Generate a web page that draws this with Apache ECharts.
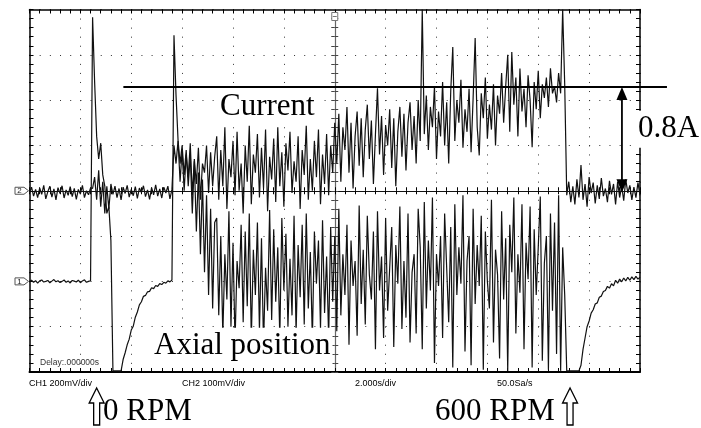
<!DOCTYPE html>
<html><head><meta charset="utf-8">
<script src="https://cdn.jsdelivr.net/npm/echarts@6/dist/echarts.min.js"></script>
<style>html,body{margin:0;padding:0;background:#fff}#c{width:701px;height:428px}</style>
</head><body><div id="c"></div>
<script>
// Sample times (s): first sample and step
const T0 = -12, DT = 0.08;
// CH2: motor current, mV (100 mV/div)
const ch2Idle = [-5,8,-12,3,-15,6,-8,12,-18,-2,10,-14,4,-20,7,-6,11,-16,2,-10,9,-13,5,-19,3,-7,12,-15,0,-9,6];
const ch2Start = [5,30,-20,45,-35,20,-50,10,-40,15];
const ch2Wait = [-8,10,-15,5,-20,8,-6,12,-14,3,-11,9,-17,6,-4,11,-13,2,-19,7,-9,13,-12,4,-16,8,-5,10,-18,3];
const ch2RunA = [100,60,110,20,90,0,80,30,105,-10,70,15,95,-20,60,40,100,-5,85,10,75];
const ch2RunB = [120,-20,90,10,140,-40,70,30,110,-10,130,0,60,-50,100,20,145,-30,80,40,125,-15,95,5,135,-45,75,25,115,-25,140,10,85,-35,105,45,130,-5,65,20,120,-40,90,35,145,-20,70,0,110,30,135,-30,80,15,125,-10,100,40,150];
const ch2RunC = [60,170,20,140,90,185,40,150,5,120,175,55,160,30,135,190,70,155,15,125,226,80,165,35,145,100,180,50,160,10,130,185,75,170,45,150,195,90,165,60,200,110];
const ch2RunD = [400,125,210,90,185,140,230,70,175,120,240,100,195,60,220,317,110,200,150,245,95,180,130,225,85,205,337,140,78,215,160,250,115,190,135,235,100,210,170];
const ch2RunE = [260,150,230,300,130,306,190,250,120,270,175,225,140,255,200,96,240,180,265,160,235,205,250,185,270,215,230,195,260,215,400,235];
const ch2Stop = [-10,20,-25,10,-30,25,-15,57,-20,15,-35,30,-5,18,-28,12,-18,28,-12,5,-25,22,-8,15,-30,20,-15,10,-22,25,-5,12,-20,8,-15,18,-10];
// CH1: axial position, mV (200 mV/div)
const ch1Idle = [0,5,-4,3,-8,2,6,-3,0,4,-6,1,8,-2,3,-5,0,6,-4,2,-7,4,1,-3,5,-6,2,7,-4,0,3];
const ch1Kick = [1166,880,640,540,610,470,420,300,330,180];
const ch1Floor = [-395,-395,-395,-395,-395];
const ch1Recover = [-345,-315,-280,-255,-215,-198,-158,-135,-104,-90,-66,-62,-46,-44,-28,-32,-18,-22,-10,-14,-4,-8,2,-2,6];
const ch1Kick2 = [1086,822,623];
const ch1RunA = [520,600,470,580,420,560,300,530,220,480,120,450,40,380,-60,320,-120,260];
const ch1RunB = [280,-150,200,-240,120,-80,310,-200,170,-270,90,-30,250,-180,220,-110,300,-260,140,-60,260,-220,190,-280,60,-130,315,-170,230,-90,150,-250,280,-40,210,-200,100,-150,290,-230,160,-70,250,-190,300,-120,130,-260,220,-10,180,-210,270,-140,110,-250,240,-90,200];
const ch1RunC = [-220,320,-150,120,-60,250,-280,180,-20,90,-240,335,-100,140,-190,290,30,-80,220,-300,310,-40,110,-250,280,-130,60,240,-290,160,-10,330,-210,90,-160,300,-270,40,120,-230,320,150];
const ch1RunD = [-300,350,-120,180,-40,370,-360,120,-20,200,-250,300,60,-180,240,-380,340,-60,150,-10,380,-310,90,200,-370,320,-100,160,-20,290,-390,220,0,-120,360,-270,140,30,-340,310,-80,190,-395,250,40,370,-230,120,-50,340,-300,170,10,330,-380,230,-60,150,375,-350,80,200,-390,300,-130,260,-320,380,-395,150,-60];
const ch1Floor2 = [-395,-395,-395,-395,-395,-395,-395];
const ch1Recover2 = [-370,-300,-250,-200,-175,-140,-125,-100,-95,-70,-65,-45,-40,-22,-30,-10,-20,5,-8,10,-2,15,2,18,5,20,8,22,10,18];
// annotation values
const refLevel = 229;          // CH2 mV level of the 0.8 A line
const refLineT = [-8.31, 13.06];
const arrowT = 11.29;
const rpmArrowT = [-9.36, 9.25];

const ch2 = [].concat(ch2Idle, ch2Start, ch2Wait, ch2RunA, ch2RunB, ch2RunC, ch2RunD, ch2RunE, ch2Stop);
const ch1 = [].concat(ch1Idle, ch1Kick, ch1Floor, ch1Recover, ch1Kick2, ch1RunA, ch1RunB, ch1RunC, ch1RunD, ch1Floor2, ch1Recover2);
const ch2Data = ch2.map((v, i) => [T0 + i * DT, v]);
const ch1Data = ch1.map((v, i) => [T0 + i * DT, v]);

const chart = echarts.init(document.getElementById('c'), null, {renderer: 'canvas'});
const blk = {color: '#000', width: 1};
function xa(extra) {
  return Object.assign({type: 'value', min: -12, max: 12, interval: 2, axisLabel: {show: false},
    splitLine: {show: false}}, extra);
}
function ya(extra) {
  return Object.assign({type: 'value', min: -400, max: 400, interval: 100, axisLabel: {show: false},
    splitLine: {show: false}}, extra);
}
const option = {
  animation: false,
  backgroundColor: '#fff',
  grid: {left: 29.5, top: 9.5, width: 610.5, height: 362.5, containLabel: false, outerBoundsMode: 'none'},
  xAxis: [
    xa({position: 'bottom', axisLine: {show: true, onZero: false, lineStyle: {color: '#000', width: 2}},
      axisTick: {show: true, inside: true, length: 4, lineStyle: blk},
      minorTick: {show: true, splitNumber: 5, length: 4, lineStyle: blk},
      splitLine: {show: true, lineStyle: {color: '#333', width: 1, type: [1, 8.06]}}}),
    xa({position: 'top', axisLine: {show: true, onZero: false, lineStyle: {color: '#000', width: 1.6}},
      axisTick: {show: true, inside: true, length: 4, lineStyle: blk},
      minorTick: {show: true, splitNumber: 5, length: 4, lineStyle: blk}}),
    xa({position: 'bottom', axisLine: {show: true, onZero: true, onZeroAxisIndex: 0, lineStyle: {color: '#111', width: 1}},
      axisTick: {show: true, inside: true, length: 3.5, lineStyle: blk},
      minorTick: {show: true, splitNumber: 5, length: 3.5, lineStyle: blk}}),
    xa({position: 'bottom', axisLine: {show: false, onZero: true, onZeroAxisIndex: 0},
      axisTick: {show: true, inside: false, length: 3.5, lineStyle: blk},
      minorTick: {show: true, splitNumber: 5, length: 3.5, lineStyle: blk}})
  ],
  yAxis: [
    ya({position: 'left', axisLine: {show: true, onZero: false, lineStyle: {color: '#000', width: 1.5}},
      axisTick: {show: true, inside: true, length: 4, lineStyle: blk},
      minorTick: {show: true, splitNumber: 5, length: 4, lineStyle: blk},
      splitLine: {show: true, lineStyle: {color: '#333', width: 1, type: [1, 9.175]}}}),
    {type: 'value', min: -400, max: 1200, interval: 200, position: 'right', axisLabel: {show: false},
      splitLine: {show: false},
      axisLine: {show: true, onZero: false, lineStyle: {color: '#000', width: 1.5}},
      axisTick: {show: true, inside: true, length: 4, lineStyle: blk},
      minorTick: {show: true, splitNumber: 5, length: 4, lineStyle: blk}},
    ya({position: 'left', axisLine: {show: true, onZero: true, onZeroAxisIndex: 0, lineStyle: {color: '#666', width: 1.2}},
      axisTick: {show: true, inside: true, length: 3.5, lineStyle: {color: '#444'}},
      minorTick: {show: true, splitNumber: 5, length: 3.5, lineStyle: {color: '#444'}}}),
    ya({position: 'left', axisLine: {show: false, onZero: true, onZeroAxisIndex: 0},
      axisTick: {show: true, inside: false, length: 3.5, lineStyle: {color: '#444'}},
      minorTick: {show: true, splitNumber: 5, length: 3.5, lineStyle: {color: '#444'}}})
  ],
  series: [
    {type: 'line', name: 'Current', xAxisIndex: 0, yAxisIndex: 0, data: ch2Data, symbol: 'none', showSymbol: false,
      silent: true, clip: true, z: 3, lineStyle: {color: '#111', width: 1.2}},
    {type: 'line', name: 'Axial position', xAxisIndex: 0, yAxisIndex: 1, data: ch1Data, symbol: 'none', showSymbol: false,
      silent: true, clip: true, z: 3, lineStyle: {color: '#111', width: 1.2}}
  ]
};
chart.setOption(option);

const p2 = (t, v) => chart.convertToPixel({xAxisIndex: 0, yAxisIndex: 0}, [t, v]);
const p1 = (t, v) => chart.convertToPixel({xAxisIndex: 0, yAxisIndex: 1}, [t, v]);
const g = [];
const serif = '31px "Liberation Serif", "Times New Roman", serif';
const sans = '9px "Liberation Sans", Arial, sans-serif';
function txt(s, x, yBase, font, size, bg) {
  const el = {type: 'text', x: x, y: yBase - 0.345 * size, z: 100,
    style: {text: s, font: font, fill: '#000', verticalAlign: 'middle', align: 'left'}};
  if (bg) { el.style.backgroundColor = '#fff'; el.style.padding = [3, 2]; }
  g.push(el);
}
// 0.8 A reference line
const la = p2(refLineT[0], refLevel), lb = p2(refLineT[1], refLevel);
g.push({type: 'line', z: 90, shape: {x1: la[0], y1: la[1], x2: lb[0], y2: lb[1]}, style: {stroke: '#000', lineWidth: 1.8}});
// double arrow
const aTop = p2(arrowT, refLevel), aBot = p2(arrowT, 0);
g.push({type: 'line', z: 90, shape: {x1: aTop[0], y1: aTop[1] + 8, x2: aBot[0], y2: aBot[1] - 8}, style: {stroke: '#000', lineWidth: 1.8}});
g.push({type: 'polygon', z: 90, shape: {points: [[aTop[0], aTop[1]], [aTop[0] - 5.5, aTop[1] + 13], [aTop[0] + 5.5, aTop[1] + 13]]}, style: {fill: '#000'}});
g.push({type: 'polygon', z: 90, shape: {points: [[aBot[0], aBot[1] + 1.5], [aBot[0] - 5.5, aBot[1] - 11.5], [aBot[0] + 5.5, aBot[1] - 11.5]]}, style: {fill: '#000'}});
// hollow RPM arrows
rpmArrowT.forEach(function (t) {
  const cx = p2(t, 0)[0];
  g.push({type: 'polygon', z: 90, shape: {points: [[cx, 388], [cx + 7.5, 403], [cx + 3, 403], [cx + 3, 425], [cx - 3, 425], [cx - 3, 403], [cx - 7.5, 403]]},
    style: {fill: '#fff', stroke: '#000', lineWidth: 1.3}});
});
// channel ground markers
[[p2(-12, 0)[1], '2'], [p1(-12, 0)[1], '1']].forEach(function (m) {
  const y = m[0];
  g.push({type: 'polygon', z: 95, shape: {points: [[15, y - 3.5], [24, y - 3.5], [28.5, y], [24, y + 3.5], [15, y + 3.5]]},
    style: {fill: '#fff', stroke: '#555', lineWidth: 1}});
  g.push({type: 'text', z: 96, x: 19.5, y: y, style: {text: m[1], font: '8px "Liberation Sans", Arial, sans-serif', fill: '#222', align: 'center', verticalAlign: 'middle'}});
});
// trigger marker at top centre
const tc = p2(0, 400);
g.push({type: 'rect', z: 95, shape: {x: tc[0] - 3, y: tc[1] + 3, width: 6, height: 8}, style: {fill: '#fff', stroke: '#777', lineWidth: 1}});
g.push({type: 'line', z: 96, shape: {x1: tc[0] - 2, y1: tc[1] + 7, x2: tc[0] + 2, y2: tc[1] + 7}, style: {stroke: '#777', lineWidth: 1}});
// texts
txt('Current', 218, 118, serif, 31, true);
txt('Axial position', 152, 357, serif, 31, true);
txt('0.8A', 636, 140, serif, 31, true);
txt('0 RPM', 103, 423, serif, 31, false);
txt('600 RPM', 435, 423, serif, 31, false);
txt('CH1 200mV/div', 29, 386.5, sans, 9, false);
txt('CH2 100mV/div', 182, 386.5, sans, 9, false);
txt('2.000s/div', 355, 386.5, sans, 9, false);
txt('50.0Sa/s', 497, 386.5, sans, 9, false);
g.push({type: 'text', z: 100, x: 40, y: 365.5 - 3, style: {text: 'Delay:.000000s', font: '8.5px "Liberation Sans", Arial, sans-serif', fill: '#333', verticalAlign: 'middle'}});
chart.setOption({graphic: g});
</script></body></html>
